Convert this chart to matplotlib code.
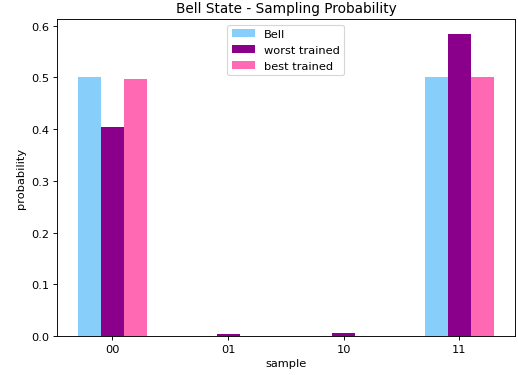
import numpy as np
import matplotlib
matplotlib.use('Agg')
import matplotlib.pyplot as plt

samples = ['00', '01', '10', '11']
bell = [0.5, 0.0, 0.0, 0.5]
worst = [0.404, 0.004, 0.006, 0.584]
best = [0.497, 0.0, 0.0, 0.501]

# reference looks rendered at a smaller dpi, so text/lines are scaled down
DPI = 82
fig, ax = plt.subplots(figsize=(518 / DPI, 376 / DPI), dpi=DPI)
fig.subplots_adjust(left=0.11, right=0.994, bottom=0.104, top=0.947)

x = np.arange(len(samples))
w = 0.2
ax.bar(x - w, bell, w, color='lightskyblue', label='Bell')
ax.bar(x, worst, w, color='darkmagenta', label='worst trained')
ax.bar(x + w, best, w, color='hotpink', label='best trained')

ax.set_xticks(x)
ax.set_xticklabels(samples)
ax.set_xlabel('sample')
ax.set_ylabel('probability')
ax.set_title('Bell State - Sampling Probability')
ax.legend(loc='upper center')

plt.savefig('out.png', dpi=DPI)
